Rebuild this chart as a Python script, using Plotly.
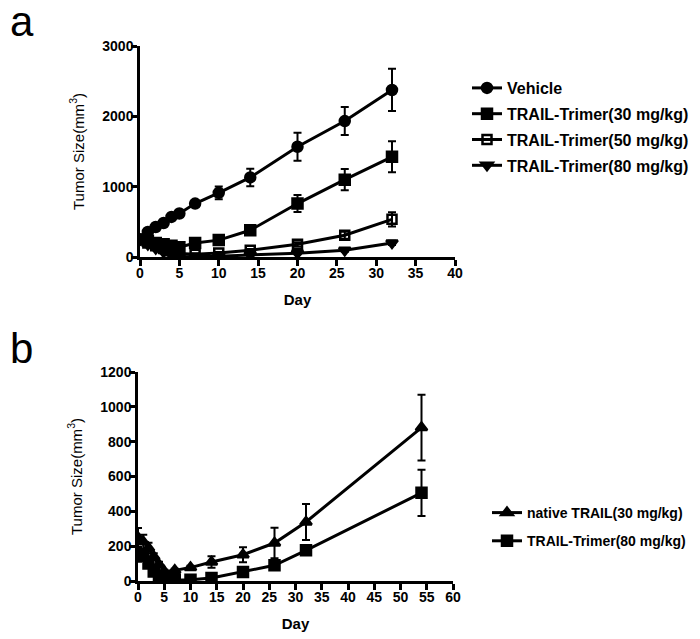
import plotly.graph_objects as go

# ---- Panel a data ----
days_a = [0, 1, 2, 3, 4, 5, 7, 10, 14, 20, 26, 32]
vehicle = [250, 356, 427, 484, 570, 618, 760, 912, 1131, 1567, 1933, 2375]
vehicle_err = [40, 30, 30, 30, 40, 40, 50, 90, 125, 200, 200, 300]
trimer30 = [250, 230, 200, 180, 160, 140, 200, 240, 380, 760, 1100, 1425]
trimer30_err = [40, 30, 30, 30, 30, 30, 30, 30, 40, 120, 150, 220]
trimer50 = [250, 200, 160, 120, 90, 50, 40, 57, 95, 180, 310, 535]
trimer50_err = [40, 30, 30, 20, 20, 15, 15, 15, 20, 30, 50, 100]
trimer80 = [250, 180, 120, 70, 30, 5, 5, 10, 30, 55, 95, 200]
trimer80_err = [40, 30, 20, 20, 10, 5, 5, 5, 10, 15, 20, 30]

# ---- Panel b data ----
days_b = [0, 1, 2, 3, 4, 5, 7, 10, 14, 20, 26, 32, 54]
native = [250, 225, 190, 140, 95, 55, 61, 77, 109, 151, 218, 339, 881]
native_err = [55, 40, 30, 20, 15, 10, 10, 10, 33, 43, 88, 103, 189]
trimer80b = [150, 145, 100, 55, 25, 10, 5, 7, 17, 52, 90, 176, 506]
trimer80b_err = [40, 30, 20, 15, 10, 5, 5, 5, 5, 8, 10, 15, 133]

ticks_a_x = [0, 5, 10, 15, 20, 25, 30, 35, 40]
ticks_a_y = [0, 1000, 2000, 3000]
ticks_b_x = [0, 5, 10, 15, 20, 25, 30, 35, 40, 45, 50, 55, 60]
ticks_b_y = [0, 200, 400, 600, 800, 1000, 1200]

W, H = 700, 639
OFF = 8  # page body margin
FONT = "Liberation Sans, Arial, sans-serif"

fig = go.Figure()

def add(x, y, err, name, symbol, xa, ya, legend, group, size=10):
    fig.add_trace(go.Scatter(
        x=x, y=y, name=name, mode="lines+markers",
        line=dict(color="black", width=3),
        marker=dict(symbol=symbol, size=size, color="black",
                    line=dict(color="black", width=2.5)),
        error_y=dict(type="data", array=err, visible=True,
                     color="black", thickness=2, width=4),
        xaxis=xa, yaxis=ya, legend=legend, legendgroup=group,
    ))

add(days_a, vehicle, vehicle_err, "<b>Vehicle</b>", "circle", "x", "y", "legend", "a1")
add(days_a, trimer30, trimer30_err, "<b>TRAIL-Trimer(30 mg/kg)</b>", "square", "x", "y", "legend", "a2")
add(days_a, trimer50, trimer50_err, "<b>TRAIL-Trimer(50 mg/kg)</b>", "square-open", "x", "y", "legend", "a3", size=9)
add(days_a, trimer80, trimer80_err, "<b>TRAIL-Trimer(80 mg/kg)</b>", "triangle-down", "x", "y", "legend", "a4")

add(days_b, native, native_err, "<b>native TRAIL(30 mg/kg)</b>", "triangle-up", "x2", "y2", "legend2", "b1")
add(days_b, trimer80b, trimer80b_err, "<b>TRAIL-Trimer(80 mg/kg)</b>", "square", "x2", "y2", "legend2", "b2")

def px_x(p):
    return (p - OFF) / W

def px_y(p):
    return 1 - (p - OFF) / H

axis_common = dict(
    showline=True, linecolor="black", linewidth=2.5,
    ticks="outside", ticklen=6, tickwidth=2.5, tickcolor="black",
    showgrid=False, zeroline=False, automargin=False,
    ticklabelstandoff=-5,
    tickfont=dict(family=FONT, size=14, color="black", weight="bold"),
)

fig.update_layout(
    width=W, height=H,
    margin=dict(l=0, r=0, t=0, b=0),
    paper_bgcolor="white", plot_bgcolor="white",
    font=dict(family=FONT, color="black"),
    xaxis=dict(domain=[px_x(140), px_x(455)], range=[0, 40], tickvals=ticks_a_x,
               anchor="y",
               title=dict(text="<b>Day</b>", font=dict(size=15)), **axis_common),
    yaxis=dict(domain=[px_y(257), px_y(46)], range=[0, 3000], tickvals=ticks_a_y,
               anchor="x",
               title=dict(text="Tumor Size(mm<sup>3</sup>)", font=dict(size=15)),
               **axis_common),
    xaxis2=dict(domain=[px_x(138), px_x(453)], range=[0, 60], tickvals=ticks_b_x,
                anchor="y2",
                title=dict(text="<b>Day</b>", font=dict(size=15)), **axis_common),
    yaxis2=dict(domain=[px_y(581), px_y(372)], range=[0, 1200], tickvals=ticks_b_y,
                anchor="x2",
                title=dict(text="Tumor Size(mm<sup>3</sup>)", font=dict(size=15)),
                **axis_common),
    legend=dict(x=px_x(467), y=px_y(71), xanchor="left", yanchor="top",
                font=dict(family=FONT, size=16, color="black"),
                tracegroupgap=2, bgcolor="rgba(0,0,0,0)"),
    legend2=dict(x=px_x(487), y=px_y(497), xanchor="left", yanchor="top",
                 font=dict(family=FONT, size=14, color="black"),
                 tracegroupgap=7, bgcolor="rgba(0,0,0,0)"),
    showlegend=True,
    annotations=[
        dict(text="a", x=0, y=px_y(-4), xref="paper", yref="paper",
             xanchor="left", yanchor="top", showarrow=False,
             font=dict(family=FONT, size=42, color="black")),
        dict(text="b", x=0, y=px_y(323), xref="paper", yref="paper",
             xanchor="left", yanchor="top", showarrow=False,
             font=dict(family=FONT, size=42, color="black")),
    ],
)

fig.write_html("out.html")
